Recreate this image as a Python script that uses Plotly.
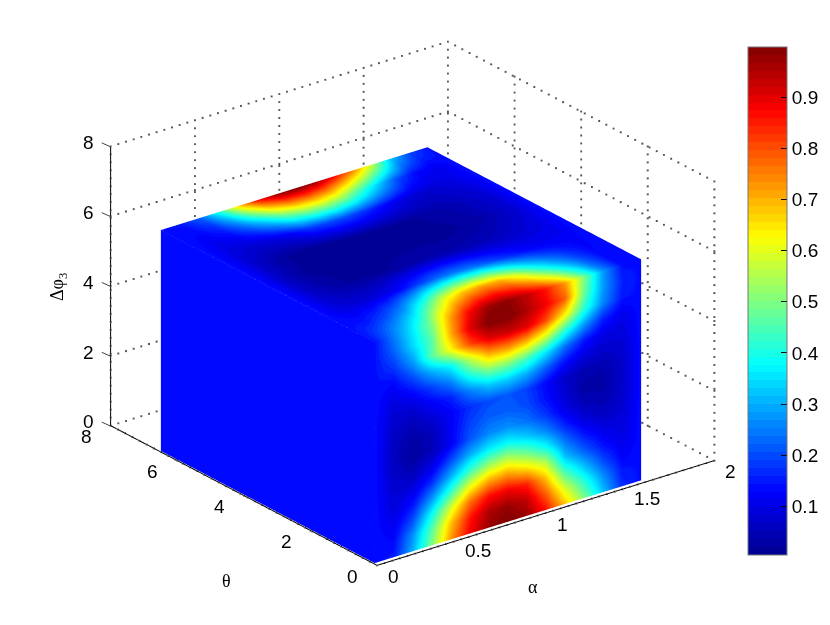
import numpy as np
import plotly.graph_objects as go

ALPHA_TICKS = [0, 0.5, 1, 1.5, 2]
THETA_TICKS = [0, 2, 4, 6, 8]
PHI_TICKS = [0, 2, 4, 6, 8]
BAR_TICKS = [0.1, 0.2, 0.3, 0.4, 0.5, 0.6, 0.7, 0.8, 0.9]

# extent of the sampled block on each axis
ALPHA_SPAN = [0, 1.58]
THETA_SPAN = [0.07, 6.49]
PHI_SPAN = [0.03, 6.36]

# face at theta = 0: rows go up in phi, columns go right in alpha
front_face = [
    [.14, .15, .30, .50, .72, .88, .97, 1.0, .97, .86, .68, .50, .32, .17, .14],
    [.14, .13, .27, .46, .68, .85, .95, .97, .93, .78, .58, .42, .27, .15, .14],
    [.14, .11, .20, .38, .58, .76, .86, .88, .84, .68, .45, .32, .20, .12, .14],
    [.14, .09, .14, .27, .43, .60, .70, .72, .65, .55, .32, .22, .14, .10, .14],
    [.14, .08, .09, .17, .30, .43, .52, .55, .48, .38, .24, .15, .10, .09, .14],
    [.14, .07, .05, .10, .20, .30, .36, .38, .33, .26, .16, .09, .06, .08, .14],
    [.14, .06, .02, .05, .12, .21, .26, .27, .24, .18, .10, .05, .04, .07, .14],
    [.14, .06, .03, .05, .12, .19, .22, .22, .20, .14, .08, .03, .03, .07, .14],
    [.14, .07, .05, .08, .12, .17, .20, .21, .19, .13, .07, .04, .04, .07, .14],
    [.14, .08, .08, .12, .16, .25, .32, .33, .30, .22, .14, .09, .07, .08, .14],
    [.14, .10, .13, .19, .26, .40, .50, .50, .45, .36, .24, .15, .10, .09, .14],
    [.14, .13, .20, .30, .38, .55, .70, .72, .68, .58, .42, .28, .16, .11, .14],
    [.14, .18, .28, .46, .62, .80, .90, .92, .90, .80, .63, .42, .26, .15, .14],
    [.14, .22, .34, .46, .70, .90, 1.0, 1.0, .95, .88, .78, .48, .28, .16, .14],
    [.14, .25, .36, .50, .72, .88, .97, .98, .93, .85, .72, .50, .28, .14, .14],
]

# face at the top of the block: rows go back in theta, columns go right in alpha
top_face = [
    [.14, .25, .36, .50, .72, .88, .97, .98, .93, .85, .72, .50, .28, .14, .14],
    [.14, .15, .20, .28, .42, .58, .68, .72, .70, .58, .42, .30, .20, .13, .14],
    [.14, .09, .08, .09, .12, .18, .23, .25, .24, .20, .16, .13, .12, .12, .14],
    [.14, .07, .04, .02, .02, .02, .03, .04, .04, .04, .05, .06, .08, .10, .14],
    [.14, .06, .02, .01, .01, .01, .01, .01, .01, .01, .02, .03, .05, .08, .14],
    [.14, .07, .03, .01, .01, .01, .02, .02, .02, .02, .03, .04, .06, .08, .14],
    [.14, .09, .08, .09, .12, .18, .20, .20, .17, .13, .09, .07, .08, .10, .14],
    [.14, .12, .15, .24, .36, .50, .58, .60, .56, .45, .33, .20, .13, .11, .14],
    [.14, .15, .22, .40, .65, .85, .97, 1.0, .97, .88, .75, .58, .33, .20, .14],
]

# face at alpha = 0 is flat blue
left_face = [[.14, .14], [.14, .14]]


def jet_steps(n=64):
    stops = [0, 0.125, 0.375, 0.625, 0.875, 1]
    reds = [0, 0, 0, 255, 255, 128]
    greens = [0, 0, 255, 255, 0, 0]
    blues = [143, 255, 255, 0, 0, 0]
    scale = []
    for i in range(n):
        t = (i + 0.5) / n
        c = f'rgb({np.interp(t, stops, reds):.0f},{np.interp(t, stops, greens):.0f},{np.interp(t, stops, blues):.0f})'
        scale.append([i / n, c])
        scale.append([(i + 1) / n, c])
    return scale


def face(x, y, z, values):
    return go.Surface(
        x=x, y=y, z=z, surfacecolor=values, coloraxis='coloraxis',
        lighting=dict(ambient=1, diffuse=0, specular=0, roughness=1, fresnel=0),
        hoverinfo='skip',
    )


def solid_line(xs, ys, zs):
    return go.Scatter3d(x=xs, y=ys, z=zs, mode='lines', line=dict(color='#000000', width=2),
                        hoverinfo='skip', showlegend=False)


def dotted_line(start, end, n_dots):
    # the gl dash pattern is too fine, so the dots are placed one by one
    xs, ys, zs = [np.linspace(s, e, n_dots) for s, e in zip(start, end)]
    return go.Scatter3d(x=xs, y=ys, z=zs, mode='markers',
                        marker=dict(color='#555555', size=1, symbol='square', line=dict(width=0)),
                        hoverinfo='skip', showlegend=False)


a_max, t_max, p_max = ALPHA_TICKS[-1], THETA_TICKS[-1], PHI_TICKS[-1]

A1, P1 = np.meshgrid(np.linspace(*ALPHA_SPAN, 15), np.linspace(*PHI_SPAN, 15))
A2, T2 = np.meshgrid(np.linspace(*ALPHA_SPAN, 15), np.linspace(*THETA_SPAN, 9))
T3, P3 = np.meshgrid(np.linspace(*THETA_SPAN, 2), np.linspace(*PHI_SPAN, 2))

traces = [
    face(A1, np.full_like(A1, THETA_SPAN[0]), P1, front_face),
    face(A2, T2, np.full_like(A2, PHI_SPAN[1]), top_face),
    face(np.full_like(T3, ALPHA_SPAN[0]), T3, P3, left_face),
]

# dotted grid on the back walls, as matlab draws it
DOTS_A, DOTS_T, DOTS_P = 45, 38, 36
for a in ALPHA_TICKS:
    traces.append(dotted_line((a, 0, 0), (a, t_max, 0), DOTS_T))
    traces.append(dotted_line((a, t_max, 0), (a, t_max, p_max), DOTS_P))
for t in THETA_TICKS:
    traces.append(dotted_line((0, t, 0), (a_max, t, 0), DOTS_A))
    traces.append(dotted_line((a_max, t, 0), (a_max, t, p_max), DOTS_P))
for p in PHI_TICKS:
    traces.append(dotted_line((0, t_max, p), (a_max, t_max, p), DOTS_A))
    traces.append(dotted_line((a_max, t_max, p), (a_max, 0, p), DOTS_T))

# solid axis lines
traces.append(solid_line([0, 0], [t_max, t_max], [0, p_max]))
traces.append(solid_line([0, 0], [0, t_max], [0, 0]))
traces.append(solid_line([0, a_max], [0, 0], [0, 0]))

fig = go.Figure(traces)

axis_style = dict(
    showgrid=False, zeroline=False, showline=False, showbackground=False, showspikes=False,
    ticks='', title=dict(text=''), showticklabels=False,
)
tick_font = dict(family='Liberation Sans', size=19, color='#000000')

scene_notes = []
for a in ALPHA_TICKS:
    scene_notes.append(dict(x=a, y=0, z=0, text=str(a), showarrow=False, xshift=17, yshift=-11, font=tick_font))
for t in THETA_TICKS:
    scene_notes.append(dict(x=0, y=t, z=0, text=str(t), showarrow=False, xshift=-24, yshift=-11, font=tick_font))
for p in PHI_TICKS:
    scene_notes.append(dict(x=0, y=t_max, z=p, text=str(p), showarrow=False, xshift=-22, yshift=4, font=tick_font))
    # short tick stub leaving the vertical axis
    scene_notes.append(dict(x=0, y=t_max, z=p, text='\u00a0', showarrow=True, arrowhead=0, arrowwidth=1,
                            arrowcolor='#444444', ax=-9, ay=-4, standoff=0, startstandoff=0,
                            font=dict(size=1), borderpad=0))

label_font = dict(family='Liberation Serif', size=18, color='#000000')

fig.update_layout(
    width=830, height=625,
    margin=dict(l=0, r=0, t=0, b=0, autoexpand=False),
    paper_bgcolor='#ffffff',
    showlegend=False,
    coloraxis=dict(
        cmin=0.005, cmax=0.998, colorscale=jet_steps(),
        colorbar=dict(
            x=748 / 830, xanchor='left', xpad=0, ypad=0,
            y=(625 - 301) / 625, yanchor='middle', lenmode='pixels', len=508,
            thicknessmode='pixels', thickness=39,
            outlinewidth=1, outlinecolor='#777777',
            tickvals=BAR_TICKS, ticks='inside', ticklen=6, tickcolor='#000000',
            tickfont=tick_font,
        ),
    ),
    scene=dict(
        domain=dict(x=[0.002, 0.991], y=[0.03, 0.998]),
        camera=dict(
            projection=dict(type='orthographic'),
            eye=dict(x=-0.558 * 1.564, y=-0.725 * 1.564, z=0.4036 * 1.564),
            up=dict(x=0, y=0, z=1),
            center=dict(x=0, y=0, z=0),
        ),
        aspectmode='manual',
        aspectratio=dict(x=1.407, y=1.444, z=1.009),
        xaxis=dict(range=[0, a_max], tickvals=ALPHA_TICKS, **axis_style),
        yaxis=dict(range=[0, t_max], tickvals=THETA_TICKS, **axis_style),
        zaxis=dict(range=[0, p_max], tickvals=PHI_TICKS, **axis_style),
        annotations=scene_notes,
    ),
    annotations=[
        dict(text='α', x=533 / 830, y=1 - 587 / 625, xref='paper', yref='paper', showarrow=False,
             xanchor='center', yanchor='middle', font=label_font),
        dict(text='θ', x=226 / 830, y=1 - 581 / 625, xref='paper', yref='paper', showarrow=False,
             xanchor='center', yanchor='middle', font=label_font),
        dict(text='Δφ<sub>3</sub>', x=58 / 830, y=1 - 287 / 625, xref='paper', yref='paper', showarrow=False,
             xanchor='center', yanchor='middle', textangle=-90, font=label_font),
    ],
)

fig.write_html("out.html", post_script="document.body.style.margin='0';",
               config={'displayModeBar': False})
